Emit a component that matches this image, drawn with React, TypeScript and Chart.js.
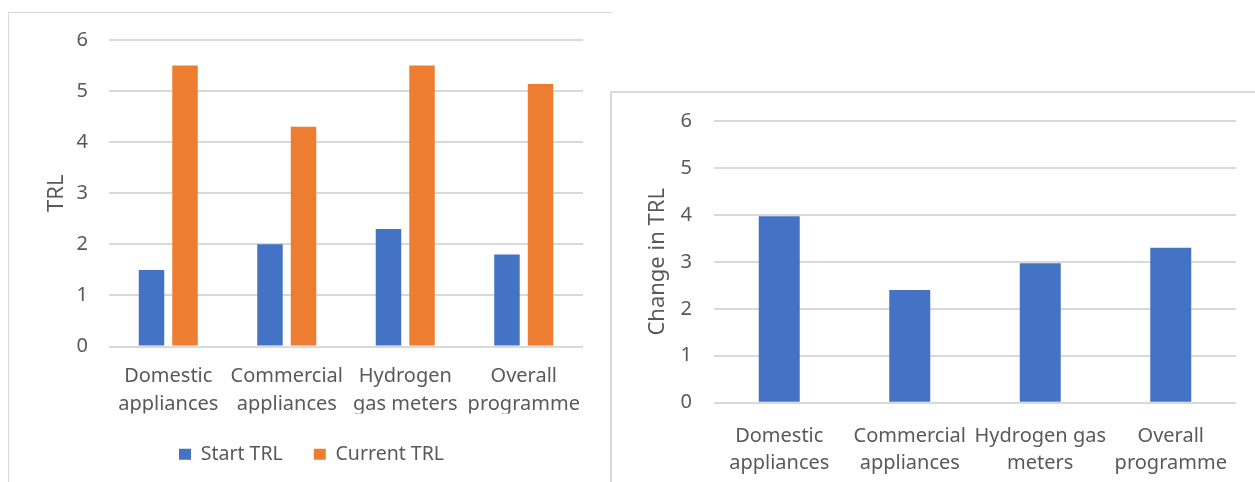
import React, { useEffect, useRef } from "react";
import { Chart, registerables } from "chart.js";

Chart.register(...registerables);

// ---- Data ----
const leftCategories: string[][] = [
  ["Domestic", "appliances"],
  ["Commercial", "appliances"],
  ["Hydrogen", "gas meters"],
  ["Overall", "programme"],
];
const rightCategories: string[][] = [
  ["Domestic", "appliances"],
  ["Commercial", "appliances"],
  ["Hydrogen gas", "meters"],
  ["Overall", "programme"],
];
const startTRL = [1.5, 2.0, 2.3, 1.8];
const currentTRL = [5.5, 4.3, 5.5, 5.14];
const changeTRL = [3.97, 2.4, 2.97, 3.3];
const yMin = 0;
const yMax = 6;
const yStep = 1;

const FONT = "'Noto Sans', 'DejaVu Sans', sans-serif";
const TEXT = "#595959";
const GRID = "#d9d9d9";
const BLUE = "#4472C4";
const ORANGE = "#ED7D31";

function LeftChart() {
  const ref = useRef<HTMLCanvasElement | null>(null);
  useEffect(() => {
    if (!ref.current) return;
    const chart = new Chart(ref.current, {
      type: "bar",
      data: {
        labels: leftCategories,
        datasets: [
          {
            label: "Start TRL",
            data: startTRL,
            backgroundColor: BLUE,
            categoryPercentage: 0.566,
            barPercentage: 0.76,
          },
          {
            label: "Current TRL",
            data: currentTRL,
            backgroundColor: ORANGE,
            categoryPercentage: 0.566,
            barPercentage: 0.76,
          },
        ],
      },
      options: {
        animation: false,
        responsive: false,
        maintainAspectRatio: false,
        layout: { padding: { left: 31, right: 26, top: 27, bottom: 8 } },
        plugins: {
          tooltip: { enabled: false },
          legend: {
            position: "bottom",
            labels: {
              boxWidth: 12,
              boxHeight: 11,
              padding: 31,
              color: TEXT,
              font: { family: FONT, size: 19.5 },
            },
          },
        },
        scales: {
          x: {
            grid: { display: false, drawTicks: false },
            border: { display: false },
            ticks: {
              color: TEXT,
              font: { family: FONT, size: 20, lineHeight: 1.4 },
              padding: 16,
              maxRotation: 0,
              autoSkip: false,
            },
            afterFit: (s: any) => {
              s.height = 67;
            },
          },
          y: {
            min: yMin,
            max: yMax,
            ticks: {
              stepSize: yStep,
              padding: 0,
              color: TEXT,
              font: { family: FONT, size: 20 },
            },
            grid: {
              color: GRID,
              lineWidth: 2,
              drawTicks: true,
              tickLength: 21,
              tickColor: "rgba(0,0,0,0)",
            },
            border: { display: false },
            title: {
              display: true,
              text: "TRL",
              color: TEXT,
              font: { family: FONT, size: 22 },
              padding: { top: 4, bottom: 4 },
            },
            afterFit: (s: any) => {
              s.width = 69;
            },
          },
        },
      },
    } as any);
    return () => chart.destroy();
  }, []);
  return (
    <canvas
      ref={ref}
      width={600}
      height={469}
      style={{ position: "absolute", left: 9, top: 13, width: 600, height: 469 }}
    />
  );
}

function RightChart() {
  const ref = useRef<HTMLCanvasElement | null>(null);
  useEffect(() => {
    if (!ref.current) return;
    const chart = new Chart(ref.current, {
      type: "bar",
      data: {
        labels: rightCategories,
        datasets: [
          {
            label: "Change in TRL",
            data: changeTRL,
            backgroundColor: BLUE,
            categoryPercentage: 1,
            barPercentage: 0.314,
          },
        ],
      },
      options: {
        animation: false,
        responsive: false,
        maintainAspectRatio: false,
        layout: { padding: { left: 29, right: 19, top: 28, bottom: 0 } },
        plugins: {
          tooltip: { enabled: false },
          legend: { display: false },
        },
        scales: {
          x: {
            grid: { display: false, drawTicks: false },
            border: { display: false },
            ticks: {
              color: TEXT,
              font: { family: FONT, size: 20, lineHeight: 1.35 },
              padding: 20,
              maxRotation: 0,
              autoSkip: false,
            },
            afterFit: (s: any) => {
              s.height = 79.3;
            },
          },
          y: {
            min: yMin,
            max: yMax,
            ticks: {
              stepSize: yStep,
              padding: 0,
              color: TEXT,
              font: { family: FONT, size: 20 },
            },
            grid: {
              color: GRID,
              lineWidth: 2,
              drawTicks: true,
              tickLength: 22,
              tickColor: "rgba(0,0,0,0)",
            },
            border: { display: false },
            title: {
              display: true,
              text: "Change in TRL",
              color: TEXT,
              font: { family: FONT, size: 22 },
              padding: { top: 4, bottom: 4 },
            },
            afterFit: (s: any) => {
              s.width = 73;
            },
          },
        },
      },
    } as any);
    return () => chart.destroy();
  }, []);
  return (
    <canvas
      ref={ref}
      width={643}
      height={389}
      style={{ position: "absolute", left: 612, top: 93, width: 643, height: 389 }}
    />
  );
}

export default function App() {
  return (
    <div
      style={{
        position: "fixed",
        left: 0,
        top: 0,
        width: 1255,
        height: 482,
        background: "#fff",
        overflow: "hidden",
      }}
    >
      <div
        style={{
          position: "absolute",
          left: 8,
          top: 12,
          width: 604,
          height: 470,
          boxSizing: "border-box",
          borderTop: `1px solid ${GRID}`,
          borderLeft: `1px solid ${GRID}`,
        }}
      />
      <LeftChart />
      <div
        style={{
          position: "absolute",
          left: 610,
          top: 91,
          width: 645,
          height: 391,
          boxSizing: "border-box",
          borderTop: `2px solid ${GRID}`,
          borderLeft: `2px solid ${GRID}`,
          background: "#fff",
        }}
      />
      <RightChart />
    </div>
  );
}
